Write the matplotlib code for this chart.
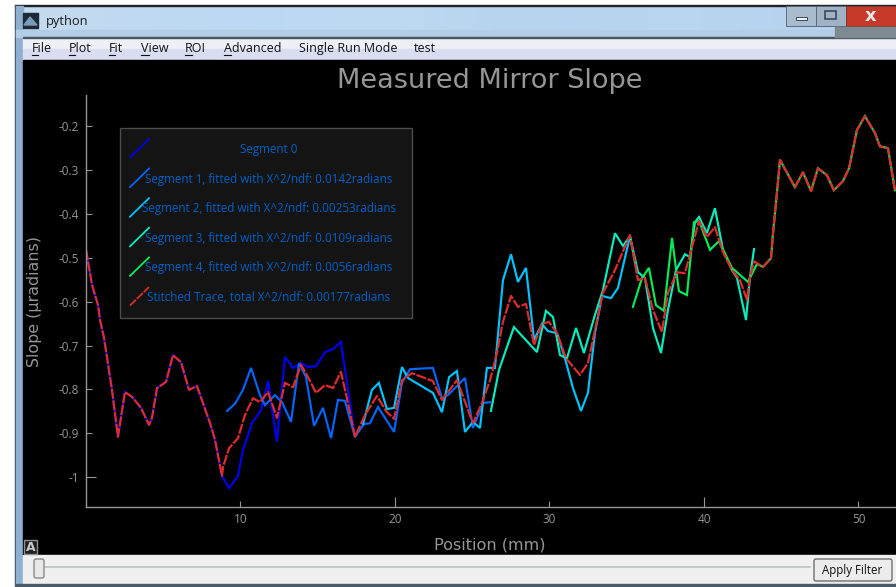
import matplotlib
matplotlib.use("Agg")
import matplotlib.pyplot as plt
import numpy as np
from matplotlib.patches import Rectangle, FancyBboxPatch

# trace data
head_x = [0.00, 0.39, 0.78, 0.91, 1.17, 1.68, 2.07, 2.52, 2.98, 3.56, 4.08, 4.27, 4.60, 5.18, 5.63, 6.15, 6.67, 7.18, 8.03, 8.35, 8.80]
head_y = [-0.482, -0.562, -0.608, -0.642, -0.683, -0.801, -0.908, -0.806, -0.817, -0.842, -0.881, -0.865, -0.797, -0.783, -0.722, -0.738, -0.801, -0.792, -0.877, -0.915, -0.997]

seg0_x = head_x + [9.26, 9.84, 10.16, 10.74, 11.33, 11.78, 12.36, 12.88, 13.40, 13.92, 14.37, 14.89, 15.47, 15.99, 16.50, 17.41]
seg0_y = head_y + [-1.025, -0.997, -0.938, -0.877, -0.847, -0.781, -0.920, -0.726, -0.751, -0.740, -0.749, -0.747, -0.715, -0.708, -0.692, -0.908]

seg1_x = [9.13, 9.64, 10.16, 10.68, 11.26, 11.59, 12.23, 12.69, 13.27, 13.79, 14.24, 14.76, 15.34, 15.86, 16.31, 16.76, 17.41, 17.99, 18.38, 18.90, 19.94, 20.45, 20.97, 22.46, 23.04, 23.43, 24.53, 25.05, 25.70, 26.15]
seg1_y = [-0.849, -0.833, -0.801, -0.751, -0.813, -0.836, -0.813, -0.829, -0.874, -0.740, -0.772, -0.883, -0.842, -0.911, -0.824, -0.826, -0.908, -0.879, -0.877, -0.840, -0.897, -0.785, -0.754, -0.751, -0.820, -0.813, -0.774, -0.888, -0.831, -0.829]

seg2_x = [17.93, 18.51, 18.96, 19.48, 19.94, 20.45, 20.84, 22.46, 23.04, 23.50, 24.01, 24.53, 25.05, 25.50, 25.95, 26.47, 26.99, 27.51, 27.96, 28.48, 29.00, 29.51, 29.90, 30.49, 31.00, 31.52, 32.04, 32.49, 32.94, 33.40, 33.98, 34.43, 35.21, 35.66]
seg2_y = [-0.879, -0.801, -0.785, -0.845, -0.842, -0.749, -0.774, -0.808, -0.852, -0.772, -0.758, -0.897, -0.874, -0.888, -0.751, -0.751, -0.551, -0.492, -0.555, -0.523, -0.687, -0.651, -0.667, -0.672, -0.729, -0.797, -0.849, -0.808, -0.672, -0.587, -0.592, -0.569, -0.451, -0.533]

seg3_x = [26.21, 26.73, 27.25, 27.70, 29.19, 29.77, 30.23, 30.68, 31.13, 31.72, 32.23, 32.94, 33.46, 34.24, 34.76, 35.21, 35.73, 36.18, 36.70, 37.22, 37.67, 38.19, 38.77, 39.09, 39.42, 39.68, 40.19, 40.71, 41.23, 41.81, 42.14, 42.72, 42.98, 43.24]
seg3_y = [-0.849, -0.756, -0.703, -0.658, -0.715, -0.621, -0.635, -0.722, -0.729, -0.660, -0.717, -0.631, -0.574, -0.444, -0.473, -0.451, -0.533, -0.546, -0.660, -0.717, -0.619, -0.528, -0.492, -0.498, -0.419, -0.407, -0.444, -0.387, -0.482, -0.528, -0.546, -0.642, -0.544, -0.480]

tail_x = [44.34, 44.47, 44.72, 44.92, 45.89, 46.41, 46.93, 47.38, 47.96, 48.41, 49.00, 49.39, 49.90, 50.42, 51.07, 51.39, 51.91, 52.36]
tail_y = [-0.501, -0.444, -0.353, -0.277, -0.339, -0.305, -0.348, -0.296, -0.312, -0.346, -0.325, -0.296, -0.209, -0.177, -0.216, -0.246, -0.250, -0.346]

seg4_x = [35.40, 35.99, 36.44, 36.89, 37.41, 37.93, 38.38, 38.90, 39.35, 39.68, 40.39, 40.97, 41.81, 42.85, 43.43, 43.82] + tail_x
seg4_y = [-0.612, -0.546, -0.523, -0.608, -0.621, -0.455, -0.576, -0.585, -0.419, -0.416, -0.482, -0.462, -0.523, -0.555, -0.514, -0.521] + tail_y

stitched_x = head_x + [8.87, 9.26, 9.84, 10.29, 10.81, 11.26, 11.78, 12.36, 12.88, 13.40, 13.92, 14.37, 14.89, 15.47, 15.99, 16.50, 16.89, 17.41, 18.06, 18.83, 19.48, 19.94, 20.45, 21.10, 22.46, 23.04, 24.01, 25.05, 25.63, 26.15, 26.60, 26.99, 27.51, 27.96, 28.48, 29.00, 29.51, 29.97, 30.49, 31.07, 31.97, 32.49, 32.94, 33.46, 34.24, 35.21, 35.73, 36.18, 36.70, 37.28, 37.67, 38.25, 38.77, 39.68, 40.19, 40.71, 41.23, 41.81, 42.33, 42.78, 42.98, 43.24, 43.82] + tail_x
stitched_y = head_y + [-0.977, -0.934, -0.911, -0.858, -0.820, -0.829, -0.806, -0.865, -0.785, -0.795, -0.744, -0.772, -0.808, -0.790, -0.797, -0.760, -0.820, -0.908, -0.858, -0.815, -0.852, -0.867, -0.779, -0.763, -0.781, -0.824, -0.779, -0.877, -0.831, -0.779, -0.717, -0.646, -0.587, -0.612, -0.605, -0.699, -0.651, -0.646, -0.672, -0.729, -0.767, -0.740, -0.665, -0.580, -0.528, -0.448, -0.551, -0.546, -0.619, -0.669, -0.580, -0.533, -0.535, -0.416, -0.453, -0.430, -0.487, -0.528, -0.551, -0.596, -0.544, -0.508, -0.521] + tail_y

legend_labels = ["Segment 0",
                 "Segment 1, fitted with X^2/ndf: 0.0142radians",
                 "Segment 2, fitted with X^2/ndf: 0.00253radians",
                 "Segment 3, fitted with X^2/ndf: 0.0109radians",
                 "Segment 4, fitted with X^2/ndf: 0.0056radians",
                 "Stitched Trace, total X^2/ndf: 0.00177radians"]
colors = ["#0000f0", "#0066ff", "#00c4ff", "#00f0c0", "#00ee55", "#dd2c2c"]
x_ticks = [10, 20, 30, 40, 50]
y_ticks = [-0.2, -0.3, -0.4, -0.5, -0.6, -0.7, -0.8, -0.9, -1]
y_tick_labels = ["-0.2", "-0.3", "-0.4", "-0.5", "-0.6", "-0.7", "-0.8", "-0.9", "-1"]
menu_items = [("File", 32, 38), ("Plot", 69, 75), ("Fit", 109, 115), ("View", 141, 149),
              ("ROI", 185, 192), ("Advanced", 224, 231), ("Single Run Mode", 299, None), ("test", 414, None)]

W, H = 896, 587
gray = "#969696"
ui_font = "Open Sans"
plt.rcParams['font.family'] = ['DejaVu Sans']

fig = plt.figure(figsize=(W / 100, H / 100), dpi=100, facecolor="white")

# window chrome, in pixel coords
bg = fig.add_axes([0, 0, 1, 1], zorder=0)
bg.set_xlim(0, W)
bg.set_ylim(H, 0)
bg.axis("off")

frame = np.array([[0.77, 0.86, 0.94], [0.72, 0.84, 0.95], [0.76, 0.86, 0.95], [0.70, 0.82, 0.93], [0.74, 0.85, 0.95], [0.70, 0.82, 0.93]])
bg.imshow(frame[np.newaxis, :, :], extent=(15, W, 37, 5), aspect="auto", interpolation="bicubic", zorder=1)
bg.set_xlim(0, W)
bg.set_ylim(H, 0)
bg.add_patch(Rectangle((15, 5), W - 15, 1, color="#222222", zorder=2))
bg.add_patch(Rectangle((15, 5), 1, H - 5, color="#3a4a5a", zorder=2))
bg.add_patch(Rectangle((16, 6), 7, H - 6, color="#8fb0d0", zorder=2))
bg.add_patch(Rectangle((16, 30), W - 16, 7, color="#b4cde6", zorder=2))
bg.add_patch(Rectangle((23, 37), W - 23, 1, color="#4a5560", zorder=3))
bg.add_patch(Rectangle((23, 38), W - 23, 11, color="#eef0f8", zorder=2))
bg.add_patch(Rectangle((23, 49), W - 23, 11, color="#d9ddef", zorder=2))
bg.add_patch(Rectangle((23, 60), W - 23, 495, color="black", zorder=2))
bg.add_patch(Rectangle((23, 555), W - 23, 29, color="#f0f0f0", zorder=2))
bg.add_patch(Rectangle((16, 584), W - 16, 3, color="#4a5a68", zorder=3))

# title bar
bg.add_patch(Rectangle((23, 13), 15, 15, color="#1c2a3a", zorder=3))
bg.add_patch(plt.Polygon([[24, 25], [30, 17], [37, 25]], color="#7a9ab5", zorder=4))
bg.text(46, 22, "python", fontsize=9.3, family=ui_font, color="#1a1a1a", va="center", zorder=5)
bg.add_patch(Rectangle((786, 6), 30, 20, color="#a9bccd", ec="#5a6a78", lw=0.7, zorder=3))
bg.add_patch(Rectangle((816, 6), 30, 20, color="#9fb3c4", ec="#5a6a78", lw=0.7, zorder=3))
bg.add_patch(Rectangle((846, 6), 50, 20, color="#c63a2c", ec="#7a3a30", lw=0.7, zorder=3))
bg.add_patch(Rectangle((796, 17), 11, 3, fc="#eef2f6", ec="#3a4a5a", lw=0.7, zorder=4))
bg.add_patch(Rectangle((825, 11), 11, 8, fc="none", ec="#3a4a5a", lw=1.2, zorder=4))
bg.text(871, 16, "x", fontsize=13, fontweight="bold", color="#e8e8e8", ha="center", va="center", zorder=5)
bg.add_patch(Rectangle((835, 27), 61, 10, color="#7d8a92", zorder=3))

# menu bar
for name, left, under in menu_items:
    bg.text(left, 48.5, name, fontsize=9.0, family=ui_font, color="#111111", va="center", zorder=5)
    if under is not None:
        bg.plot([left, under], [54.5, 54.5], color="#111111", lw=0.8, zorder=5)

# slider strip and the small A button
bg.plot([40, 810], [567, 567], color="#b8c4b8", lw=1.2, zorder=4)
bg.add_patch(FancyBboxPatch((34, 559), 10, 19, boxstyle="round,pad=0,rounding_size=2", fc="#e8e8e8", ec="#8a8a8a", lw=1, zorder=5))
bg.add_patch(FancyBboxPatch((814, 559), 78, 22, boxstyle="round,pad=0,rounding_size=2", fc="#ececec", ec="#707070", lw=1, zorder=5))
bg.text(852.5, 570.5, "Apply Filter", fontsize=8.3, family=ui_font, color="#111111", ha="center", va="center", zorder=6)
bg.add_patch(Rectangle((24, 540), 13, 14, fc="#202020", ec="#909090", lw=1, zorder=5))
bg.text(30.5, 547.5, "A", fontsize=9, fontweight="bold", color="#c8c8c8", ha="center", va="center", zorder=6)

# plot
ax = fig.add_axes([86 / W, 1 - 507 / H, (W - 86) / W, (507 - 95) / H], zorder=1)
ax.set_facecolor("none")
traces = [(seg0_x, seg0_y), (seg1_x, seg1_y), (seg2_x, seg2_y), (seg3_x, seg3_y), (seg4_x, seg4_y)]
for i in range(5):
    ax.plot(traces[i][0], traces[i][1], color=colors[i], lw=1.55, solid_joinstyle="miter")
ax.plot(stitched_x, stitched_y, color=colors[5], lw=1.6, linestyle=(0, (4.6, 0.7)))

ax.set_xlim(0, 52.43)
ax.set_ylim(-1.068, -0.129)
ax.set_xticks(x_ticks)
ax.set_yticks(y_ticks)
ax.set_yticklabels(y_tick_labels)
ax.tick_params(axis="both", direction="in", colors=gray, length=4, width=0.8, labelsize=8.5, pad=5)
ax.tick_params(axis="x", pad=4)
for t in ax.xaxis.get_major_ticks()[1::2]:
    t.tick1line.set_markersize(7)
ax.yaxis.get_major_ticks()[-1].tick1line.set_markersize(7)
for lab in ax.get_xticklabels() + ax.get_yticklabels():
    lab.set_family(ui_font)
for s in ["top", "right"]:
    ax.spines[s].set_visible(False)
for s in ["left", "bottom"]:
    ax.spines[s].set_color(gray)
    ax.spines[s].set_linewidth(1)

# texts and legend on a top layer
top = fig.add_axes([0, 0, 1, 1], zorder=2)
top.set_xlim(0, W)
top.set_ylim(H, 0)
top.axis("off")
top.text(490, 81.5, "Measured Mirror Slope", fontsize=19.5, color=gray, ha="center", va="center")
top.text(490, 545, "Position (mm)", fontsize=11.6, color=gray, ha="center", va="center")
top.text(35, 301.5, "Slope (\u03bcradians)", fontsize=11.4, color=gray, rotation=90, ha="center", va="center")

top.add_patch(Rectangle((119.5, 128), 292.5, 190, fc="#141414", ec="#4c4c4c", lw=1))
for i in range(6):
    row_y = 149.5 + 29.6 * i
    ls = "-" if i < 5 else (0, (4.6, 0.7))
    top.plot([130, 149], [row_y + 8, row_y - 10.5], color=colors[i], lw=1.3, linestyle=ls)
    top.text(269, row_y, legend_labels[i], fontsize=8.4, family=ui_font, color="#0060c8", ha="center", va="center")

fig.savefig("out.png", dpi=100)
